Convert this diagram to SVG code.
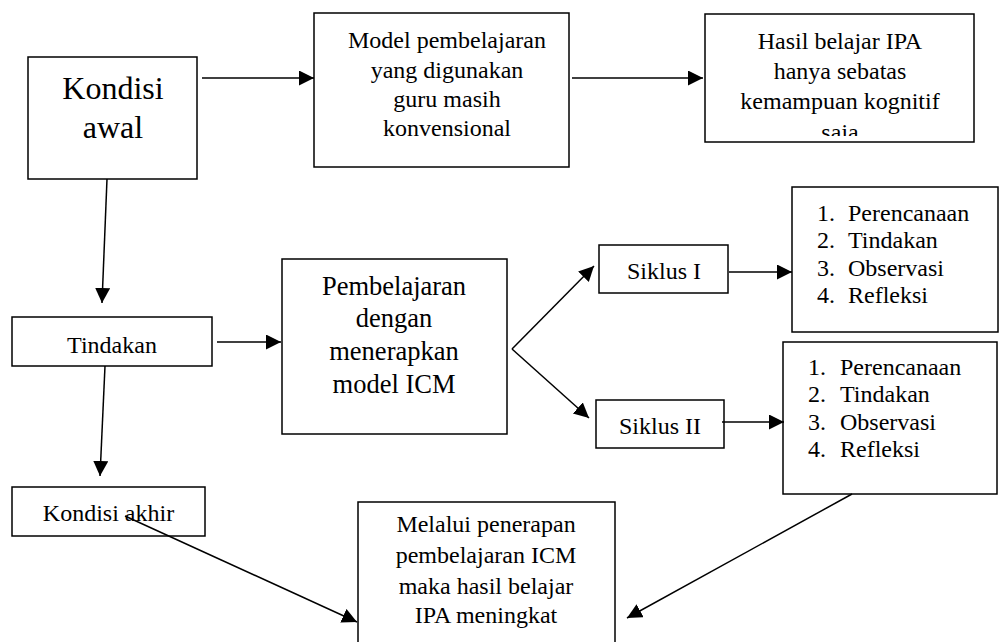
<svg xmlns="http://www.w3.org/2000/svg" width="999" height="642" viewBox="0 0 999 642">
<defs>
<style>
.box{fill:#fff;stroke:#000;stroke-width:1.5}
.t{font-family:"Liberation Serif","Times New Roman",serif;font-size:24px;fill:#000;text-anchor:middle}
.l{font-family:"Liberation Serif","Times New Roman",serif;font-size:24px;fill:#000}
.c{fill:none;stroke:#000;stroke-width:1.5}
</style>
<marker id="ah" markerUnits="userSpaceOnUse" markerWidth="16" markerHeight="16" refX="15" refY="7.5" orient="auto">
<path d="M0,0 L15,7.5 L0,15 z" fill="#000"/>
</marker>
<clipPath id="hclip"><rect x="705" y="14" width="269" height="122"/></clipPath>
</defs>
<rect width="999" height="642" fill="#fff"/>
<g id="kondisi-awal">
<rect class="box" x="28" y="57" width="169" height="122"/>
<text class="t" x="113" y="99" style="font-size:32px">Kondisi</text>
<text class="t" x="113" y="138" style="font-size:32px">awal</text>
</g>
<g id="model">
<rect class="box" x="314" y="13" width="255" height="154"/>
<text class="t" x="447" y="48">Model pembelajaran</text>
<text class="t" x="447" y="78">yang digunakan</text>
<text class="t" x="447" y="107">guru masih</text>
<text class="t" x="447" y="136">konvensional</text>
</g>
<g id="hasil">
<rect class="box" x="705" y="14" width="269" height="128"/>
<g clip-path="url(#hclip)">
<text class="t" x="840" y="49">Hasil belajar IPA</text>
<text class="t" x="840" y="79">hanya sebatas</text>
<text class="t" x="840" y="109">kemampuan kognitif</text>
<text class="t" x="840" y="140">saja</text>
</g>
</g>
<g id="tindakan">
<rect class="box" x="12" y="317" width="200" height="49"/>
<text class="t" x="112" y="353">Tindakan</text>
</g>
<g id="pembelajaran">
<rect class="box" x="282" y="259" width="225" height="175"/>
<text class="t" x="394" y="295" style="font-size:26.5px">Pembelajaran</text>
<text class="t" x="394" y="327" style="font-size:26.5px">dengan</text>
<text class="t" x="394" y="360" style="font-size:26.5px">menerapkan</text>
<text class="t" x="394" y="393" style="font-size:26.5px">model ICM</text>
</g>
<g id="siklus1">
<rect class="box" x="599" y="245" width="129" height="48"/>
<text class="t" x="664" y="279">Siklus I</text>
</g>
<g id="siklus2">
<rect class="box" x="596" y="400" width="128" height="48"/>
<text class="t" x="660" y="434">Siklus II</text>
</g>
<g id="list1">
<rect class="box" x="792" y="187" width="206" height="145"/>
<text class="l" x="817" y="221">1.</text><text class="l" x="848" y="221">Perencanaan</text>
<text class="l" x="817" y="248">2.</text><text class="l" x="848" y="248">Tindakan</text>
<text class="l" x="817" y="276">3.</text><text class="l" x="848" y="276">Observasi</text>
<text class="l" x="817" y="303">4.</text><text class="l" x="848" y="303">Refleksi</text>
</g>
<g id="list2">
<rect class="box" x="783" y="342" width="214" height="152"/>
<text class="l" x="808" y="375">1.</text><text class="l" x="840" y="375">Perencanaan</text>
<text class="l" x="808" y="402">2.</text><text class="l" x="840" y="402">Tindakan</text>
<text class="l" x="808" y="430">3.</text><text class="l" x="840" y="430">Observasi</text>
<text class="l" x="808" y="457">4.</text><text class="l" x="840" y="457">Refleksi</text>
</g>
<g id="kondisi-akhir">
<rect class="box" x="12" y="487" width="193" height="49"/>
<text class="t" x="108.5" y="521">Kondisi akhir</text>
</g>
<g id="melalui">
<rect class="box" x="358" y="502" width="257" height="150"/>
<text class="t" x="486" y="532">Melalui penerapan</text>
<text class="t" x="486" y="563">pembelajaran ICM</text>
<text class="t" x="486" y="594">maka hasil belajar</text>
<text class="t" x="486" y="623">IPA meningkat</text>
</g>
<g id="connectors">
<line class="c" x1="202" y1="78" x2="314" y2="78" marker-end="url(#ah)"/>
<line class="c" x1="572" y1="78" x2="703" y2="78" marker-end="url(#ah)"/>
<line class="c" x1="107" y1="179" x2="102" y2="303" marker-end="url(#ah)"/>
<line class="c" x1="217" y1="342" x2="281" y2="342" marker-end="url(#ah)"/>
<line class="c" x1="512" y1="349" x2="594" y2="266" marker-end="url(#ah)"/>
<line class="c" x1="512" y1="349" x2="589" y2="418" marker-end="url(#ah)"/>
<line class="c" x1="729" y1="272" x2="792" y2="272" marker-end="url(#ah)"/>
<line class="c" x1="722" y1="422" x2="784" y2="422" marker-end="url(#ah)"/>
<line class="c" x1="105" y1="366" x2="100" y2="476" marker-end="url(#ah)"/>
<line class="c" x1="125" y1="516" x2="357" y2="622" marker-end="url(#ah)"/>
<line class="c" x1="852" y1="494" x2="627" y2="618" marker-end="url(#ah)"/>
</g>
</svg>
